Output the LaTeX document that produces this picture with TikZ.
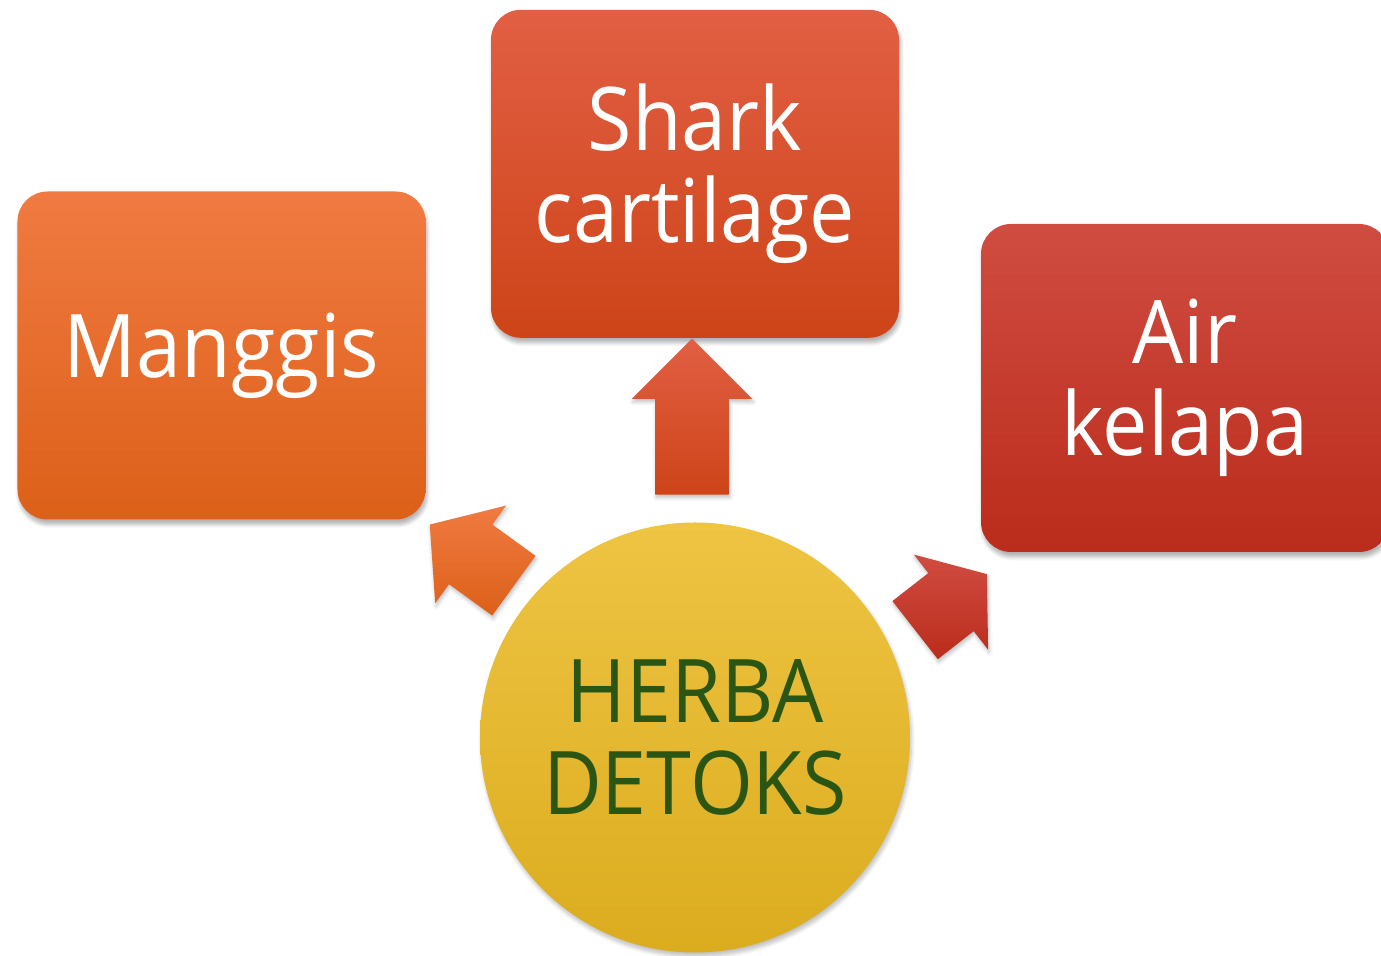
\documentclass[tikz,border=0pt]{standalone}
\usepackage{fontspec}
\setmainfont{Open Sans}[FakeStretch=0.92]
\usetikzlibrary{positioning,calc,shapes.arrows,shadows.blur}

\definecolor{manggisTop}{RGB}{240,122,66}
\definecolor{manggisBot}{RGB}{220,96,24}
\definecolor{sharkTop}{RGB}{226,95,68}
\definecolor{sharkBot}{RGB}{205,68,24}
\definecolor{airTop}{RGB}{208,76,65}
\definecolor{airBot}{RGB}{186,44,27}
\definecolor{herbaTop}{RGB}{238,196,67}
\definecolor{herbaBot}{RGB}{219,172,30}
\definecolor{herbaText}{RGB}{43,85,18}

\begin{document}
\begin{tikzpicture}[
    box/.style={rounded corners=0.6cm, minimum width=8.16cm, minimum height=6.56cm, align=center,
      text=white, font=\fontsize{50}{52}\selectfont,
      blur shadow={shadow xshift=0.03cm, shadow yshift=-0.1cm, shadow opacity=30, shadow blur steps=6}},
    disc/.style={circle, minimum size=8.6cm, inner sep=0pt, align=center, text=herbaText,
      font=\fontsize{50}{52}\selectfont, top color=herbaTop, bottom color=herbaBot,
      blur shadow={shadow xshift=0.03cm, shadow yshift=-0.08cm, shadow opacity=25, shadow blur steps=6}},
    fat/.style={single arrow, inner xsep=0pt, inner ysep=0.73cm, minimum width=2.4cm,
      single arrow head extend=0.47cm,
      blur shadow={shadow xshift=0.02cm, shadow yshift=-0.06cm, shadow opacity=25, shadow blur steps=4}}
  ]
    \useasboundingbox (0,0) rectangle (27.62,19.12);
    \node[disc] (herba) at (13.9,4.37) {HERBA\\DETOKS};
    \node[box, above=3.68cm of herba, top color=sharkTop, bottom color=sharkBot] (shark) {Shark\\cartilage};
    \node[box, top color=manggisTop, bottom color=manggisBot] (manggis) at (4.43,12.01) {Manggis};
    \node[box, top color=airTop, bottom color=airBot] (air) at (23.70,11.36) {Air\\kelapa};
    % block arrows out of the circle
    \node[fat, minimum height=3.12cm, single arrow tip angle=90, rotate=90, anchor=tip,
      top color=sharkTop, bottom color=sharkBot] (toShark) at ([xshift=-0.06cm]shark.south) {};
    \node[fat, minimum height=2.08cm, single arrow tip angle=100, rotate=144, anchor=tip,
      top color=manggisTop, bottom color=manggisBot] (toManggis)
      at ($(manggis.south east)+(0.07,-0.09)$) {};
    \node[fat, minimum height=1.82cm, single arrow tip angle=106, rotate=38, anchor=tip,
      top color=airTop, bottom color=airBot] (toAir)
      at ($(air.south west)+(0.13,-0.43)$) {};
  \end{tikzpicture}
\end{document}
